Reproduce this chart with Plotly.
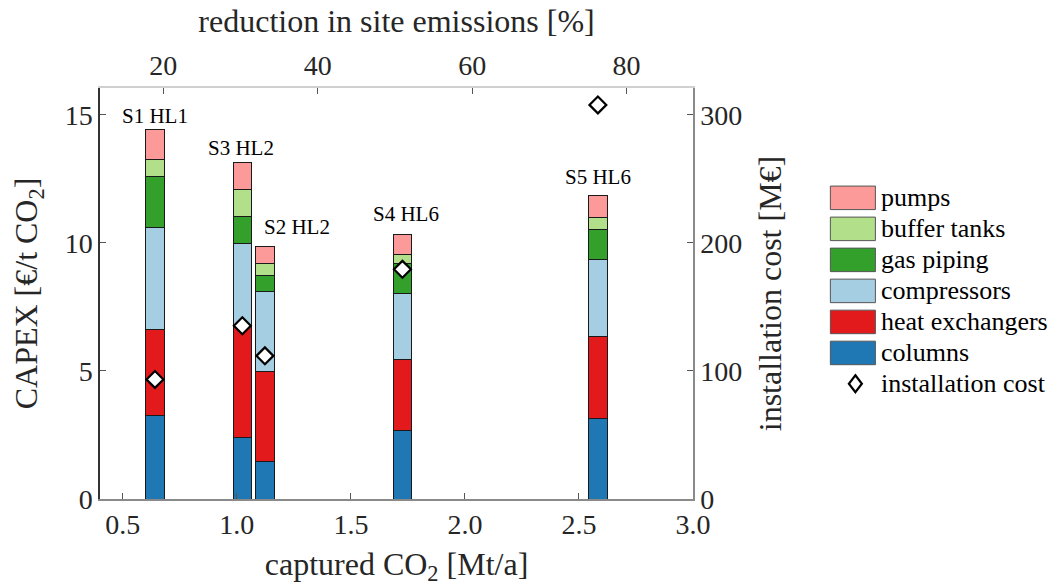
import plotly.graph_objects as go

# ---------------- data ----------------
scenarios = ["S1 HL1", "S3 HL2", "S2 HL2", "S4 HL6", "S5 HL6"]
captured = [0.641, 1.024, 1.123, 1.726, 2.583]          # Mt/a
columns = [3.25, 2.42, 1.47, 2.67, 3.14]                # €/t CO2
heat_exchangers = [3.37, 4.30, 3.51, 2.79, 3.21]
compressors = [3.97, 3.26, 3.11, 2.57, 3.01]
gas_piping = [2.00, 1.07, 0.62, 1.17, 1.18]
buffer_tanks = [0.68, 1.05, 0.48, 0.35, 0.46]
pumps = [1.17, 1.06, 0.68, 0.76, 0.85]
installation_cost = [93.4, 135.3, 111.8, 179.4, 307.8]  # M€
label_x = [0.641, 1.017, 1.265, 1.74, 2.584]
label_y = [14.96, 13.71, 10.63, 11.13, 12.59]

components = ["columns", "heat exchangers", "compressors", "gas piping", "buffer tanks", "pumps"]
comp_values = [columns, heat_exchangers, compressors, gas_piping, buffer_tanks, pumps]
comp_colors = ["#1f78b4", "#e31a1c", "#a6cee3", "#33a02c", "#b2df8a", "#fb9a99"]

x_ticks = [0.5, 1.0, 1.5, 2.0, 2.5, 3.0]
x_ticktext = ["0.5", "1.0", "1.5", "2.0", "2.5", "3.0"]
x2_ticks = [20, 40, 60, 80]
y_ticks = [0, 5, 10, 15]
y2_ticks = [0, 100, 200, 300]

FONT = "Liberation Serif"
TXT = "#262626"

# ---------------- geometry (pixels) ----------------
W, H = 1054, 588
L, R, T, B = 100, 692.7, 88, 498.7


def px(xp):
    return (xp - L) / (R - L)


def py(yp):
    return (B - yp) / (B - T)


fig = go.Figure()

for name, vals, col in zip(components, comp_values, comp_colors):
    fig.add_trace(go.Bar(
        x=captured, y=vals, name=name, width=0.08,
        marker=dict(color=col, line=dict(color="#1a1a1a", width=1)),
        showlegend=False,
    ))

fig.add_trace(go.Scatter(
    x=captured, y=installation_cost, yaxis="y2", mode="markers",
    name="installation cost", showlegend=False,
    marker=dict(symbol="diamond", size=13, color="white",
                line=dict(color="black", width=2.2)),
))

# invisible trace to anchor the top axis
fig.add_trace(go.Scatter(x=[20, 80], y=[0, 0], xaxis="x2", mode="markers",
                         marker=dict(opacity=0), showlegend=False, hoverinfo="skip"))

annotations = []
for s, lx, ly in zip(scenarios, label_x, label_y):
    annotations.append(dict(x=lx, y=ly, xref="x", yref="y", text=s, showarrow=False,
                            font=dict(family=FONT, size=21, color="black"),
                            xanchor="center", yanchor="middle"))

# manual legend (large swatches like the reference)
shapes = []
legend_order = ["pumps", "buffer tanks", "gas piping", "compressors", "heat exchangers", "columns"]
row_top = 186.0
pitch = 31.0
for i, name in enumerate(legend_order):
    col = comp_colors[components.index(name)]
    y0 = row_top + i * pitch
    y1 = y0 + 23.5
    shapes.append(dict(type="rect", xref="paper", yref="paper",
                       x0=px(830), x1=px(875), y0=py(y1), y1=py(y0),
                       fillcolor=col, line=dict(color="#555555", width=1)))
    annotations.append(dict(x=px(879), y=py((y0 + y1) / 2), xref="paper", yref="paper",
                            text=name, showarrow=False, xanchor="left", yanchor="middle",
                            font=dict(family=FONT, size=26, color="black")))
# diamond legend entry
cx, cy = 855, 383.5
path = "M {} {} L {} {} L {} {} L {} {} Z".format(
    px(cx), py(cy - 8.5), px(cx + 6.5), py(cy), px(cx), py(cy + 8.5), px(cx - 6.5), py(cy))
shapes.append(dict(type="path", xref="paper", yref="paper", path=path,
                   fillcolor="white", line=dict(color="black", width=2.2)))
annotations.append(dict(x=px(879), y=py(cy), xref="paper", yref="paper",
                        text="installation cost", showarrow=False, xanchor="left", yanchor="middle",
                        font=dict(family=FONT, size=26, color="black")))

axis_common = dict(showgrid=False, zeroline=False, ticks="inside", ticklen=6,
                   tickfont=dict(family=FONT, size=28, color=TXT))

fig.update_layout(
    width=W, height=H,
    margin=dict(l=L, r=W - R, t=T, b=H - B, autoexpand=False),
    paper_bgcolor="white", plot_bgcolor="white",
    barmode="stack", showlegend=False,
    font=dict(family=FONT, color=TXT),
    xaxis=dict(range=[0.4, 3.0], tickvals=x_ticks, ticktext=x_ticktext,
               showline=True, linecolor="#8a8a8a", linewidth=1.5, tickcolor="#555555",
               title=dict(text="captured CO<sub>2</sub> [Mt/a]", font=dict(family=FONT, size=32, color=TXT),
                          standoff=13),
               **axis_common),
    xaxis2=dict(range=[11.8, 88.6], tickvals=x2_ticks, overlaying="x", side="top",
                showline=True, linecolor="#d0d0d0", linewidth=1.5, tickcolor="#555555",
                title=dict(text="reduction in site emissions [%]", font=dict(family=FONT, size=32, color=TXT),
                           standoff=8),
                **axis_common),
    yaxis=dict(range=[0, 16.05], tickvals=y_ticks,
               showline=True, linecolor="#333333", linewidth=1.5, tickcolor="#555555",
               title=dict(text="CAPEX [€/t CO<sub>2</sub>]", font=dict(family=FONT, size=32, color=TXT),
                          standoff=17),
               **axis_common),
    yaxis2=dict(range=[0, 321], tickvals=y2_ticks, overlaying="y", side="right",
                showline=True, linecolor="#8a8a8a", linewidth=1.5, tickcolor="#555555",
                title=dict(text="installation cost [M€]", font=dict(family=FONT, size=32, color=TXT),
                           standoff=17),
                **axis_common),
    annotations=annotations,
    shapes=shapes,
)

fig.write_html("out.html")
